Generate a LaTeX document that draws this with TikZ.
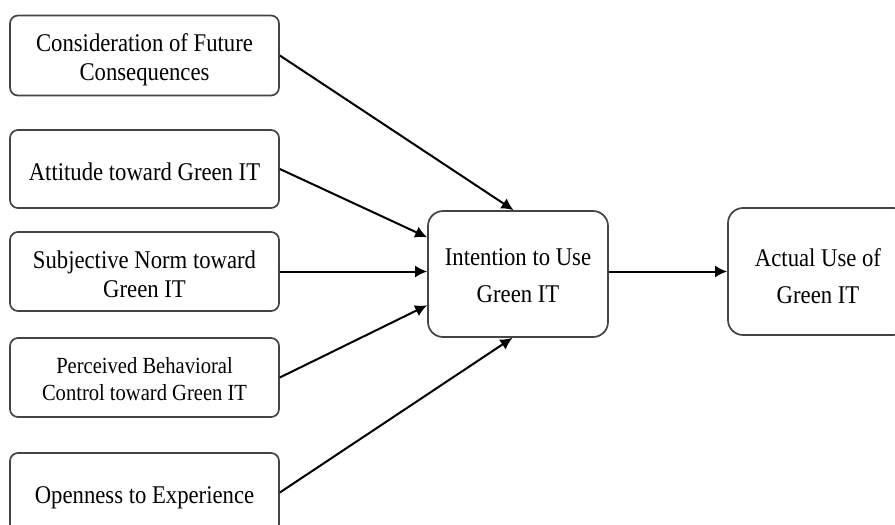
\documentclass[tikz,border=0pt]{standalone}
\usepackage{fontspec}
\setmainfont{Liberation Serif}[FakeStretch=0.89]
\usetikzlibrary{arrows.meta}
\definecolor{boxgray}{HTML}{444444}
% invisible strut at the start of a first line: pushes the text block down
\newcommand{\dropstrut}[1]{\rule{0pt}{#1}}
\begin{document}
\begin{tikzpicture}[x=1pt,y=-1pt,
  factor/.style={draw=boxgray, line width=1.7pt, rounded corners=8pt, fill=white,
    minimum width=269pt, align=center, inner sep=0pt,
    font=\fontsize{25.5}{29}\selectfont},
  stage/.style={draw=boxgray, line width=1.7pt, rounded corners=15pt, fill=white,
    minimum width=180pt, minimum height=126pt, align=center, inner sep=0pt,
    font=\fontsize{25.5}{37}\selectfont},
  link/.style={line width=2pt, -{Latex[length=12pt,width=12pt]}}
]
\useasboundingbox (0,0) rectangle (895,525);
\clip (0,0) rectangle (895,525);
\fill[white] (0,0) rectangle (895,525);

% antecedent constructs
\node[factor, minimum height=80pt] (cfc) at (144.5,55.5) {\dropstrut{27.4pt}Consideration of Future\\Consequences};
\node[factor, minimum height=78pt] (att) at (144.5,169) {\dropstrut{23.4pt}Attitude toward Green IT};
\node[factor, minimum height=79pt] (sn)  at (144.5,271.5) {\dropstrut{23.4pt}Subjective Norm toward\\Green IT};
\node[factor, minimum height=79pt, font=\fontsize{23.1}{27}\selectfont] (pbc) at (144.5,377.5) {\dropstrut{19.8pt}Perceived Behavioral\\Control toward Green IT};
\node[factor, minimum height=79pt] (ope) at (144.5,492.5) {\dropstrut{27.4pt}Openness to Experience};

% intention and behaviour
\node[stage] (int) at (518,274) {\dropstrut{19.4pt}Intention to Use\\Green IT};
\node[stage, minimum height=127pt] (use) at (818,271.5) {\dropstrut{27.4pt}Actual Use of\\Green IT};

% paths
\draw[link] (cfc.east) -- (int.94.5);
\draw[link] (att.east) -- (int.158.4);
\draw[link] (sn.east) -- (sn.east -| int.west);
\draw[link] (pbc.east) -- (int.199);
\draw[link] (ope.east) -- (int.265.5);
\draw[link] (int.east |- sn.east) -- (sn.east -| use.west);
\end{tikzpicture}
\end{document}
